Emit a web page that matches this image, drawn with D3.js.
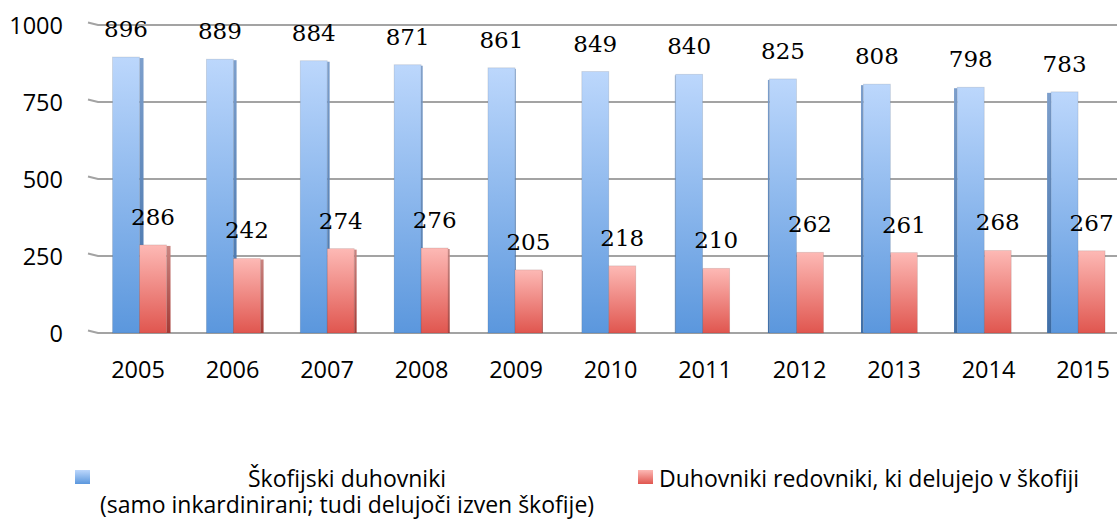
<!DOCTYPE html>
<html>
<head>
<meta charset="utf-8">
<script src="https://cdn.jsdelivr.net/npm/d3@7"></script>
<style>
  body { margin: 0; background: #fff; }
  svg { display: block; }
</style>
</head>
<body>
<div id="chart"></div>
<script>
var years = ["2005","2006","2007","2008","2009","2010","2011","2012","2013","2014","2015"];
var skofijski = [896, 889, 884, 871, 861, 849, 840, 825, 808, 798, 783];
var redovniki = [286, 242, 274, 276, 205, 218, 210, 262, 261, 268, 267];
var yTicks = [0, 250, 500, 750, 1000];
var legendNames = ["Škofijski duhovniki", "(samo inkardinirani; tudi delujoči izven škofije)", "Duhovniki redovniki, ki delujejo v škofiji"];

var width = 1117, height = 524;
var svg = d3.select("#chart").append("svg")
  .attr("width", width).attr("height", height);

var defs = svg.append("defs");
function grad(id, top, bottom) {
  var g = defs.append("linearGradient").attr("id", id)
    .attr("x1", 0).attr("y1", 0).attr("x2", 0).attr("y2", 1);
  g.append("stop").attr("offset", "0%").attr("stop-color", top);
  g.append("stop").attr("offset", "100%").attr("stop-color", bottom);
}
grad("blueG", "#bcd7fc", "#5b97dd");
grad("blueS", "#7d9fcc", "#3f6fa8");
grad("redG", "#fdb9b5", "#e0564f");
grad("redS", "#c98480", "#a53a35");

var y = d3.scaleLinear().domain([0, 1000]).range([333, 25]);
var x = d3.scaleBand().domain(years).range([92.6, 1125]).padding(0);
var barW = 27;
var mid = 610;

// gridlines with small depth stub
var grid = svg.append("g");
yTicks.forEach(function(t) {
  var yy = y(t);
  grid.append("path")
    .attr("d", "M88," + (yy - 2.5) + "L98," + yy + "L" + width + "," + yy)
    .attr("fill", "none").attr("stroke", "#a3a3a3").attr("stroke-width", 2);
  grid.append("text")
    .attr("x", 63).attr("y", yy + 9)
    .attr("text-anchor", "end")
    .attr("font-family", "Open Sans, sans-serif").attr("font-size", 23.5)
    .attr("fill", "#000").text(t);
});

function bar(g, x0, v, side, sideW, fill, sideFill) {
  var top = y(v), h = y(0) - top;
  if (sideW > 0.3) {
    var sx = side > 0 ? x0 + barW : x0 - sideW;
    g.append("rect").attr("x", sx).attr("y", top + 1).attr("width", sideW).attr("height", h - 1)
      .attr("fill", "url(#" + sideFill + ")");
  }
  g.append("rect").attr("x", x0).attr("y", top).attr("width", barW).attr("height", h)
    .attr("fill", "url(#" + fill + ")")
    .attr("stroke", "rgba(0,0,0,0.12)").attr("stroke-width", 0.8);
}

var bars = svg.append("g");
years.forEach(function(yr, i) {
  var c = x(yr) + x.bandwidth() / 2;
  var d = c - mid;
  var sideW = Math.abs(d) / (mid - 139) * 4;
  var side = d < 0 ? 1 : -1;
  var g = bars.append("g");
  if (side > 0) {
    bar(g, c - barW, skofijski[i], side, sideW, "blueG", "blueS");
    bar(g, c, redovniki[i], side, sideW, "redG", "redS");
  } else {
    bar(g, c, redovniki[i], side, sideW, "redG", "redS");
    bar(g, c - barW, skofijski[i], side, sideW, "blueG", "blueS");
  }
});

var labels = svg.append("g")
  .attr("font-family", "DejaVu Serif, serif").attr("font-size", 23)
  .attr("text-anchor", "middle").attr("fill", "#000");
years.forEach(function(yr, i) {
  var c = x(yr) + x.bandwidth() / 2;
  labels.append("text").attr("x", c - barW / 2).attr("y", y(skofijski[i]) - 20).text(skofijski[i]);
  labels.append("text").attr("x", c + barW / 2).attr("y", y(redovniki[i]) - 20).text(redovniki[i]);
});

var xAxis = svg.append("g")
  .attr("font-family", "Open Sans, sans-serif").attr("font-size", 23.5)
  .attr("text-anchor", "middle");
years.forEach(function(yr, i) {
  // labels drift slightly right of bars in the perspective view
  xAxis.append("text").attr("x", x(yr) + x.bandwidth() / 2 - 1.5 + i * 0.65).attr("y", 378).text(yr);
});

// legend
var leg = svg.append("g").attr("font-family", "Open Sans, sans-serif").attr("font-size", 23);
leg.append("rect").attr("x", 75).attr("y", 470).attr("width", 15).attr("height", 14).attr("fill", "url(#blueG)");
leg.append("text").attr("x", 347).attr("y", 487).attr("text-anchor", "middle").text(legendNames[0]);
leg.append("text").attr("x", 347).attr("y", 513).attr("text-anchor", "middle").text(legendNames[1]);
leg.append("rect").attr("x", 638).attr("y", 470).attr("width", 15).attr("height", 14).attr("fill", "url(#redG)");
leg.append("text").attr("x", 659).attr("y", 487).text(legendNames[2]);
</script>
</body>
</html>
